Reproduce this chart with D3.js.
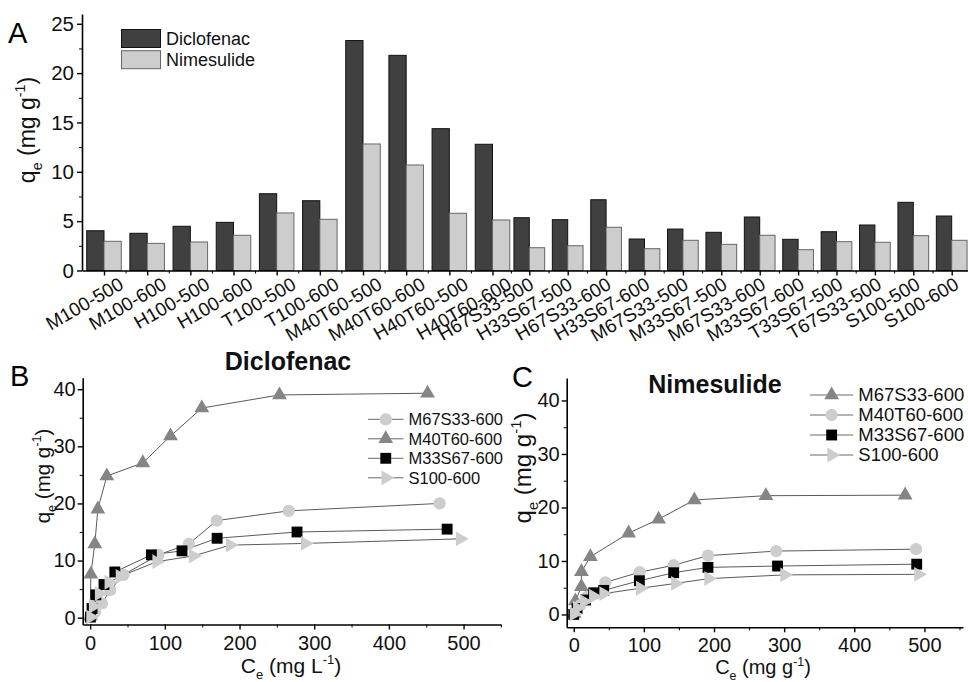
<!DOCTYPE html>
<html>
<head>
<meta charset="utf-8">
<script src="https://cdn.jsdelivr.net/npm/d3@7"></script>
<style>
  body { margin: 0; background: #fff; }
  svg { display: block; font-family: "Liberation Sans", Arial, sans-serif; }
</style>
</head>
<body>
<svg id="fig" width="968" height="682"></svg>
<script>
// Panel A: adsorption capacity per material
const categories = ["M100-500", "M100-600", "H100-500", "H100-600", "T100-500", "T100-600",
  "M40T60-500", "M40T60-600", "H40T60-500", "H40T60-600", "H67S33-500", "H33S67-500",
  "H67S33-600", "H33S67-600", "M67S33-500", "M33S67-500", "M67S33-600", "M33S67-600",
  "T33S67-500", "T67S33-500", "S100-500", "S100-600"];
const diclofenac = [4.03, 3.77, 4.48, 4.88, 7.78, 7.07, 23.3, 21.8, 14.37, 12.79, 5.35, 5.15,
  7.17, 3.19, 4.2, 3.87, 5.42, 3.16, 3.93, 4.61, 6.91, 5.52];
const nimesulide = [2.96, 2.75, 2.89, 3.57, 5.83, 5.19, 12.82, 10.69, 5.8, 5.12, 2.31, 2.51,
  4.38, 2.21, 3.06, 2.65, 3.57, 2.11, 2.92, 2.86, 3.53, 3.06];
const yTicksA = [0, 5, 10, 15, 20, 25];

// Panel B: diclofenac isotherms [Ce, qe]
const bM67S33 = [[0.5, 0.1], [6.7, 1.0], [15.7, 2.5], [26.8, 4.8], [44.6, 7.5], [91.5, 11.0], [132, 12.9], [169.6, 17.0], [266, 18.7], [468, 20.0]];
const bM40T60 = [[0.3, 0.3], [0.9, 7.6], [6.2, 12.9], [10.3, 19.0], [22.3, 24.8], [70.5, 27.1], [107.6, 31.8], [149.5, 36.7], [253.5, 39.0], [451.8, 39.3]];
const bM33S67 = [[0.3, 0.1], [2.5, 1.6], [7.6, 4.0], [18.5, 5.8], [33, 8.0], [82, 11.0], [123, 11.7], [170, 13.9], [277, 15.0], [478, 15.5]];
const bS100 = [[0.5, 0.1], [4, 2.0], [12, 4.2], [25, 6.2], [40, 7.2], [89, 9.8], [138, 10.8], [187.5, 12.7], [288, 13.0], [495.5, 13.8]];

// Panel C: nimesulide isotherms [Ce, qe]
const cM67S33 = [[0.5, 0.2], [2.4, 2.5], [11, 5.2], [11, 8.0], [23.8, 10.8], [78.3, 15.2], [121, 17.8], [172, 21.4], [274, 22.2], [472.5, 22.3]];
const cM40T60 = [[2, 0.5], [9.5, 1.75], [19, 3.3], [45.2, 6.0], [94, 7.9], [142.5, 9.2], [191.4, 11.0], [288.7, 11.85], [488, 12.2]];
const cM33S67 = [[0, 0], [4.8, 1.1], [16.7, 2.7], [28.5, 4.05], [42.7, 4.5], [93.6, 6.3], [142.5, 7.8], [191.4, 8.8], [290.6, 9.05], [489, 9.4]];
const cS100 = [[0.5, 0.1], [5, 1.2], [15, 2.4], [28, 3.4], [42.7, 3.9], [95, 4.9], [145, 5.8], [192.3, 6.7], [300.6, 7.4], [491.5, 7.5]];

const xTicksBC = [0, 100, 200, 300, 400, 500];
const yTicksBC = [0, 10, 20, 30, 40];

const DARK = "#404040", LIGHT = "#cdcdcd", MID = "#858585";

const svg = d3.select("#fig");

// subscript / superscript axis titles
function unitTitle(t, fs, head, sub, mid, sup) {
  t.append("tspan").text(head);
  t.append("tspan").attr("font-size", fs * 0.62).attr("dy", fs * 0.3).text(sub);
  t.append("tspan").attr("dy", -fs * 0.3).text(mid);
  t.append("tspan").attr("font-size", fs * 0.62).attr("dy", -fs * 0.42).text(sup);
  t.append("tspan").attr("dy", fs * 0.42).text(")");
}

function styleAxis(g, fs) {
  g.select(".domain").attr("stroke", "#000").attr("stroke-width", 1.6);
  g.selectAll(".tick line").attr("stroke", "#000").attr("stroke-width", 1.4);
  g.selectAll(".tick text").attr("font-size", fs).attr("fill", "#111");
}

// ---------------- Panel A ----------------
const xA = d3.scaleLinear()
  .domain([-0.51, 0, 9, 10, 21, 21.42])
  .range([82, 104, 492.5, 529.3, 951.7, 968]);
const xLab = d3.scaleLinear().domain([0, 9, 10, 21]).range([118, 506, 528.3, 953.3]);
const yA = d3.scaleLinear().domain([0, 26]).range([270.5, 13.9]);
const barW = i => i <= 9 ? (xA(9) - xA(0)) / 9 * 0.4 : (xA(21) - xA(10)) / 11 * 0.4;

const gA = svg.append("g");
categories.forEach((c, i) => {
  gA.append("rect")
    .attr("x", xA(i) - barW(i)).attr("width", barW(i))
    .attr("y", yA(diclofenac[i])).attr("height", yA(0) - yA(diclofenac[i]))
    .attr("fill", DARK).attr("stroke", "#111").attr("stroke-width", 1);
  gA.append("rect")
    .attr("x", xA(i)).attr("width", barW(i))
    .attr("y", yA(nimesulide[i])).attr("height", yA(0) - yA(nimesulide[i]))
    .attr("fill", LIGHT).attr("stroke", "#666").attr("stroke-width", 1);
  gA.append("text")
    .attr("transform", `translate(${xLab(i)},276) rotate(-30)`)
    .attr("text-anchor", "end").attr("dy", "0.72em")
    .attr("font-size", 19).attr("fill", "#111")
    .text(c);
});

const axAy = gA.append("g").attr("transform", "translate(82,0)")
  .call(d3.axisLeft(yA).tickValues(yTicksA).tickSize(5).tickSizeOuter(0).tickPadding(3));
styleAxis(axAy, 20.5);
gA.append("g").attr("transform", "translate(82,0)")
  .call(d3.axisLeft(yA).tickValues(d3.range(2.5, 26, 5)).tickSize(3).tickFormat(""))
  .call(g => { g.select(".domain").remove(); g.selectAll("line").attr("stroke", "#000"); });
const axAx = gA.append("g").attr("transform", `translate(0,${yA(0)})`)
  .call(d3.axisBottom(xA).tickValues(d3.range(0, 22)).tickSize(5).tickSizeOuter(0).tickFormat(""));
styleAxis(axAx, 18);
gA.append("g").attr("transform", `translate(0,${yA(0)})`)
  .call(d3.axisBottom(xA).tickValues(d3.range(0.5, 21, 1)).tickSize(3).tickFormat(""))
  .call(g => { g.select(".domain").remove(); g.selectAll("line").attr("stroke", "#000"); });

unitTitle(gA.append("text").attr("transform", "translate(35,130) rotate(-90)")
  .attr("text-anchor", "middle").attr("font-size", 23).attr("fill", "#111"),
  23, "q", "e", " (mg g", "-1");
gA.append("text").attr("x", 8).attr("y", 43).attr("font-size", 29).text("A");

// legend A
[["Diclofenac", DARK, "#111"], ["Nimesulide", LIGHT, "#666"]].forEach((d, k) => {
  gA.append("rect").attr("x", 121.5).attr("y", 29.5 + k * 21.2).attr("width", 39).attr("height", 18)
    .attr("fill", d[1]).attr("stroke", d[2]);
  gA.append("text").attr("x", 166).attr("y", 44.5 + k * 21).attr("font-size", 18).attr("fill", "#111").text(d[0]);
});

// ---------------- isotherm panels ----------------
const SYM = {
  circle: { type: d3.symbolCircle, size: 118, rot: 0 },
  tri: { type: d3.symbolTriangle, size: 95, rot: 0 },
  square: { type: d3.symbolSquare, size: 118, rot: 0 },
  right: { type: d3.symbolTriangle, size: 95, rot: 90 }
};

function drawMarker(g, sym, color, cx, cy) {
  g.append("path")
    .attr("d", d3.symbol().type(SYM[sym].type).size(SYM[sym].size)())
    .attr("transform", `translate(${cx},${cy}) rotate(${SYM[sym].rot})`)
    .attr("fill", color);
}

function isoPanel(opt) {
  const g = svg.append("g");
  const x = d3.scaleLinear().domain(opt.xDom).range(opt.xRange);
  const y = d3.scaleLinear().domain(opt.yDom).range(opt.yRange);

  const line = d3.line().x(d => x(d[0])).y(d => y(d[1]));
  opt.series.forEach(s => {
    g.append("path").datum(s.data).attr("d", line)
      .attr("fill", "none").attr("stroke", "#5a5a5a").attr("stroke-width", 1);
  });
  opt.series.forEach(s => {
    s.data.forEach(d => drawMarker(g, s.sym, s.color, x(d[0]), y(d[1])));
  });

  const y0 = y(opt.yDom[0]);
  const ax = g.append("g").attr("transform", `translate(0,${y0})`)
    .call(d3.axisBottom(x).tickValues(xTicksBC).tickSize(5).tickSizeOuter(0).tickPadding(6));
  styleAxis(ax, opt.tickFs);
  g.append("g").attr("transform", `translate(0,${y0})`)
    .call(d3.axisBottom(x).tickValues(d3.range(50, 551, 100)).tickSize(3).tickFormat(""))
    .call(a => { a.select(".domain").remove(); a.selectAll("line").attr("stroke", "#000"); });

  const x0 = x(opt.xDom[0]);
  const ay = g.append("g").attr("transform", `translate(${x0},0)`)
    .call(d3.axisLeft(y).tickValues(yTicksBC).tickSize(5).tickSizeOuter(0).tickPadding(2));
  styleAxis(ay, opt.tickFs);
  g.append("g").attr("transform", `translate(${x0},0)`)
    .call(d3.axisLeft(y).tickValues([5, 15, 25, 35]).tickSize(3).tickFormat(""))
    .call(a => { a.select(".domain").remove(); a.selectAll("line").attr("stroke", "#000"); });

  // titles
  g.append("text").attr("x", opt.title[1]).attr("y", opt.title[2])
    .attr("text-anchor", "middle").attr("font-weight", "bold").attr("font-size", opt.title[3])
    .attr("fill", "#111").text(opt.title[0]);
  unitTitle(g.append("text").attr("x", opt.xt[0]).attr("y", opt.xt[1])
    .attr("text-anchor", "middle").attr("font-size", opt.xt[2]).attr("fill", "#111"),
    opt.xt[2], "C", "e", opt.xUnit, "-1");
  unitTitle(g.append("text").attr("transform", `translate(${opt.yt[0]},${opt.yt[1]}) rotate(-90)`)
    .attr("text-anchor", "middle").attr("font-size", opt.yt[2]).attr("fill", "#111"),
    opt.yt[2], "q", "e", " (mg g", "-1");
  g.append("text").attr("x", opt.letter[1]).attr("y", opt.letter[2]).attr("font-size", 29).text(opt.letter[0]);

  // legend
  const L = opt.legend;
  opt.series.forEach((s, k) => {
    const ly = L.y + k * L.dy;
    g.append("line").attr("x1", L.x1).attr("x2", L.x2).attr("y1", ly).attr("y2", ly)
      .attr("stroke", "#6a6a6a").attr("stroke-width", 1);
    drawMarker(g, s.sym, s.color, (L.x1 + L.x2) / 2, ly);
    g.append("text").attr("x", L.x2 + 5).attr("y", ly).attr("dy", "0.35em")
      .attr("font-size", L.fs).attr("fill", "#111").text(s.name);
  });
}

isoPanel({
  xDom: [-10, 550], xRange: [82.7, 500.9],
  yDom: [-1.2, 42], yRange: [624.5, 377.8],
  tickFs: 20,
  series: [
    { name: "M67S33-600", data: bM67S33, sym: "circle", color: LIGHT },
    { name: "M40T60-600", data: bM40T60, sym: "tri", color: MID },
    { name: "M33S67-600", data: bM33S67, sym: "square", color: "#000" },
    { name: "S100-600", data: bS100, sym: "right", color: LIGHT }
  ],
  title: ["Diclofenac", 288, 370, 25],
  xt: [291, 673, 21], xUnit: " (mg L",
  yt: [50, 476, 20.5],
  letter: ["B", 10, 386],
  legend: { x1: 368, x2: 403.5, y: 419.3, dy: 19.5, fs: 16.5 }
});

isoPanel({
  xDom: [-10, 555], xRange: [566.7, 963],
  yDom: [-2.4, 44.2], yRange: [627.3, 378],
  tickFs: 20,
  series: [
    { name: "M67S33-600", data: cM67S33, sym: "tri", color: MID },
    { name: "M40T60-600", data: cM40T60, sym: "circle", color: LIGHT },
    { name: "M33S67-600", data: cM33S67, sym: "square", color: "#000" },
    { name: "S100-600", data: cS100, sym: "right", color: LIGHT }
  ],
  title: ["Nimesulide", 715, 393, 25],
  xt: [763, 674, 20], xUnit: " (mg g",
  yt: [531, 468, 24],
  letter: ["C", 512, 387],
  legend: { x1: 810, x2: 853.3, y: 395, dy: 20, fs: 18.5 }
});
</script>
</body>
</html>
